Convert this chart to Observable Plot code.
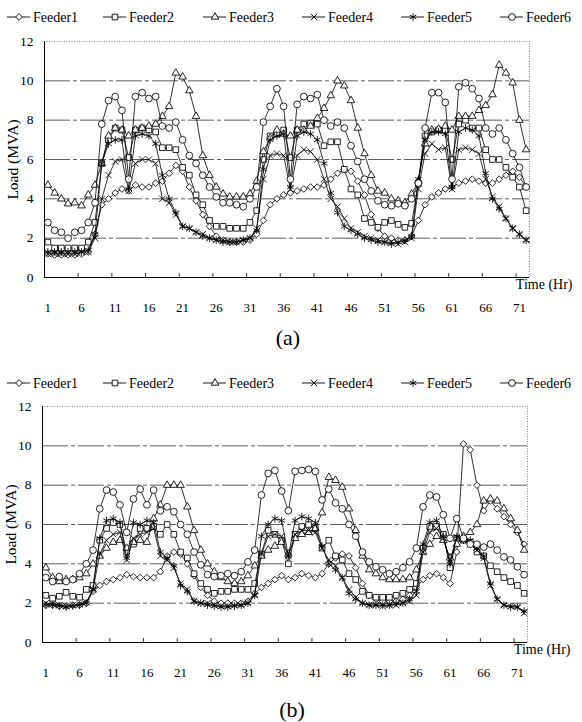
<!DOCTYPE html>
<html><head><meta charset="utf-8">
<script src="https://cdn.jsdelivr.net/npm/d3@7"></script>
<script src="https://cdn.jsdelivr.net/npm/@observablehq/plot@0.6"></script>
<style>
body{margin:0;background:#fff;width:582px;height:722px;position:relative;overflow:hidden;font-family:'Liberation Serif','DejaVu Serif',serif;color:#000;}
.cap{position:absolute;font-size:22px;width:60px;text-align:center;font-family:'Liberation Serif','DejaVu Serif',serif;}
</style></head><body>
<script>
// ---------- data ----------
const hours = d3.range(1, 73);
const feeders = ["Feeder1","Feeder2","Feeder3","Feeder4","Feeder5","Feeder6"];
const xTickLabels = [1,6,11,16,21,26,31,36,41,46,51,56,61,66,71];
const yTickLabels = [0,2,4,6,8,10,12];

// panel (a)
const aF1 = [1.2,1.15,1.15,1.15,1.15,1.2,1.3, 2.2,3.7,4.0,4.3,4.5,4.4,4.7,4.6,4.6,4.8,4.9,5.3,5.7,5.4,4.6,3.9,3.2, 2.6,2.1,1.9,1.8,1.8,1.8,1.9, 2.2,2.9,3.7,4.0,4.2,4.3,4.4,4.5,4.6,4.6,4.7,5.0,5.3,5.5,5.4,4.9,4.2, 3.2,2.5,2.1,2.0,1.9,1.9,2.1, 2.9,3.7,4.1,4.3,4.5,4.6,4.8,4.9,5.0,4.9,4.8,4.8,5.0,5.2,5.4,5.1,4.6];
const aF2 = [1.8,1.5,1.5,1.5,1.5,1.5,1.8, 2.8,5.8,7.0,7.6,7.5,6.1,7.5,7.6,7.5,7.4,6.6,6.6,6.5,5.6,5.2,4.2,3.7, 2.9,2.6,2.6,2.5,2.5,2.5,2.8, 3.4,6.0,7.2,7.3,7.5,6.1,7.5,7.8,7.85,7.8,6.7,6.9,6.9,5.5,4.5,4.2,3.0, 2.8,2.55,2.8,2.9,2.7,2.55,2.75, 4.8,7.2,7.4,7.5,7.5,6.0,7.8,8.0,7.6,7.6,6.5,6.0,6.0,5.6,5.1,4.6,3.4];
const aF3 = [4.7,4.3,4.0,3.75,3.8,3.65,4.2, 4.7,5.8,7.2,7.6,7.5,7.2,7.5,7.6,7.7,7.8,8.2,8.7,10.4,10.2,9.5,8.2,6.2, 5.2,4.6,4.25,4.1,4.1,4.1,4.25, 4.9,6.4,7.1,7.5,7.3,7.2,7.5,7.5,7.7,8.1,8.6,9.25,10.0,9.75,9.0,7.6,6.3, 5.2,4.4,4.3,4.0,3.9,3.8,4.25, 4.9,6.8,7.5,7.55,7.7,7.5,8.2,8.2,8.2,8.5,8.75,9.3,10.8,10.4,9.9,8.0,6.5];
const aF4 = [1.2,1.2,1.2,1.2,1.2,1.3,1.3, 2.0,4.0,5.2,5.9,6.0,4.4,5.8,6.0,6.0,5.8,4.0,3.8,3.2,2.6,2.5,2.3,2.2, 2.0,1.9,1.9,1.8,1.8,1.9,2.0, 2.5,5.0,6.2,6.3,6.2,4.5,6.2,6.5,6.4,6.0,5.0,4.0,3.6,3.0,2.5,2.3,2.1, 2.0,1.9,1.8,1.8,1.7,1.8,2.0, 4.5,6.3,6.8,6.5,6.6,4.5,6.5,6.6,6.5,6.3,5.0,4.1,3.6,3.0,2.5,2.2,1.9];
const aF5 = [1.3,1.3,1.3,1.3,1.3,1.3,1.4, 2.2,5.8,6.8,7.0,7.0,4.5,7.2,7.3,7.2,6.8,5.2,4.0,3.3,2.6,2.5,2.3,2.1, 2.0,1.9,1.8,1.8,1.8,1.9,2.0, 2.4,5.5,7.0,7.2,7.3,4.6,7.2,7.4,7.3,7.0,5.8,4.3,3.3,2.6,2.4,2.2,2.0, 1.9,1.8,1.8,1.7,1.8,1.9,2.1, 5.0,7.0,7.4,7.4,7.3,4.6,7.4,7.6,7.5,7.2,5.3,4.0,3.5,3.0,2.5,2.2,1.9];
const aF6 = [2.8,2.4,2.3,2.0,2.3,2.4,2.8, 3.8,7.8,9.0,9.2,8.5,5.0,9.2,9.4,9.1,9.2,7.7,7.6,7.9,7.0,6.2,5.8,5.2, 4.6,4.1,3.8,3.8,3.7,3.6,4.0, 4.6,7.9,8.7,9.6,8.7,5.0,8.8,9.2,9.1,9.3,8.0,7.7,7.9,7.6,6.7,5.9,5.0, 4.4,3.9,3.7,3.65,3.75,3.65,4.0, 4.8,7.6,9.4,9.4,8.9,5.0,9.7,9.9,9.6,9.1,7.6,7.3,7.6,7.0,6.3,5.6,4.6];

// panel (b)
const bF1 = [1.9,1.9,1.85,1.85,1.9,1.9,2.0, 2.6,2.9,3.1,3.2,3.3,3.45,3.35,3.3,3.3,3.3,3.6,4.4,4.6,4.5,4.0,3.4,2.8, 2.4,2.1,2.0,2.0,2.0,2.0,2.1, 2.5,2.8,3.0,3.2,3.4,3.2,3.3,3.5,3.4,3.3,3.5,4.0,4.3,4.5,4.4,3.8,3.0, 2.4,2.2,2.1,2.1,2.1,2.2,2.4, 2.8,3.2,3.4,3.5,3.3,3.0,4.6,10.1,9.8,8.0,6.7,7.2,6.8,6.4,6.0,5.6,5.0];
const bF2 = [2.4,2.25,2.35,2.55,2.35,2.3,2.7, 2.9,5.2,5.8,6.1,6.0,4.6,5.0,5.8,5.8,5.9,5.5,6.0,5.5,4.6,4.3,3.5,3.0, 2.7,2.5,2.6,2.6,2.7,2.7,2.7, 3.0,4.5,5.7,5.5,5.2,4.0,5.5,5.9,6.0,5.8,4.8,5.2,4.4,4.2,3.5,3.2,2.6, 2.4,2.3,2.3,2.3,2.4,2.5,2.7, 3.0,4.8,5.9,5.9,5.5,3.8,5.3,5.2,5.1,4.6,4.4,3.9,3.6,3.3,3.1,2.9,2.5];
const bF3 = [3.8,3.3,3.1,3.2,3.2,3.3,3.5, 4.0,4.4,4.8,5.1,5.2,4.8,5.1,5.2,5.1,6.3,7.0,8.0,8.0,8.0,6.9,5.7,4.7, 4.0,3.6,3.3,3.1,3.0,3.1,3.4, 3.9,4.4,4.7,4.9,5.1,4.5,5.3,5.5,5.6,5.8,6.6,8.4,8.25,7.9,6.8,5.7,4.4, 3.7,3.5,3.3,3.2,3.2,3.2,3.3, 3.7,4.6,5.0,5.4,5.2,4.3,5.0,5.4,5.6,6.0,7.2,7.3,7.2,6.8,6.3,5.7,4.7];
const bF4 = [2.0,1.95,1.9,1.85,1.9,1.95,2.05, 2.7,4.5,5.2,5.5,5.6,4.2,5.3,5.5,5.6,5.8,4.4,4.2,3.8,3.0,2.7,2.1,2.0, 2.0,1.9,1.85,1.85,1.9,1.9,2.0, 2.4,4.5,5.4,5.5,5.4,4.4,5.5,5.7,5.7,5.6,4.8,4.2,3.9,3.3,2.7,2.3,2.0, 1.9,1.9,1.85,1.9,1.9,2.0,2.1, 2.4,4.6,5.6,5.8,5.3,4.2,5.3,5.2,5.0,4.7,4.3,2.9,2.2,1.9,1.85,1.8,1.5];
const bF5 = [1.9,1.9,1.85,1.8,1.85,1.9,2.0, 2.7,5.3,6.2,6.3,6.1,4.3,6.1,6.0,6.2,6.1,4.6,4.3,3.9,2.9,2.6,2.1,2.0, 1.9,1.85,1.8,1.8,1.85,1.9,2.0, 2.4,5.4,6.0,6.3,6.2,4.4,6.2,6.4,6.3,6.1,4.9,4.0,3.7,3.3,2.5,2.2,2.0, 1.9,1.9,1.9,1.9,2.0,2.0,2.2, 2.6,5.0,6.1,6.2,5.4,4.0,5.4,5.2,5.2,4.8,4.4,3.0,2.2,1.9,1.8,1.8,1.6];
const bF6 = [3.3,3.1,3.35,3.1,3.2,3.5,4.0, 4.7,6.8,7.75,7.65,7.0,5.6,7.3,7.8,7.0,7.75,6.7,6.9,6.65,6.0,5.5,4.6,3.95, 3.45,3.35,3.4,3.5,3.4,3.6,4.1, 4.7,7.5,8.6,8.75,7.7,6.7,8.7,8.75,8.8,8.7,7.25,7.8,7.1,6.8,6.0,5.4,4.6, 4.1,3.85,3.7,3.5,3.6,3.8,4.1, 4.8,6.9,7.5,7.4,6.5,5.3,6.3,5.3,5.0,5.0,4.85,5.0,4.7,4.35,4.2,3.85,3.45];

// ---------- styling ----------
const symbols = ["diamond2","square2","triangle2","times","asterisk","circle"];
const d3symbols = [d3.symbolDiamond2, d3.symbolSquare2, d3.symbolTriangle2, d3.symbolTimes, d3.symbolAsterisk, d3.symbolCircle];
const radii = [3.0, 3.6, 3.6, 3.0, 3.6, 3.4];
const FONT = "'Liberation Serif', 'DejaVu Serif', serif";

function legend(top) {
  const svg = d3.create("svg").attr("width", 582).attr("height", 24)
    .style("position","absolute").style("left","0px").style("top", top + "px");
  const textX = [33, 129, 229, 328, 427, 526];
  feeders.forEach((name, i) => {
    const tx = textX[i];
    const cx = tx - 14;
    svg.append("line").attr("x1", tx - 26).attr("x2", tx - 3).attr("y1", 12).attr("y2", 12)
      .attr("stroke", "#000").attr("stroke-width", 0.9);
    svg.append("path").attr("d", d3.symbol(d3symbols[i], Math.PI * radii[i] * radii[i])())
      .attr("transform", `translate(${cx},12)`).attr("fill", "#fff").attr("stroke", "#000").attr("stroke-width", 0.9);
    svg.append("text").attr("x", tx).attr("y", 16.5).text(name)
      .style("font-family", FONT).style("font-size", "14px");
  });
  document.body.appendChild(svg.node());
}

function panel(seriesArr, top, ml, mr) {
  const marks = [
    Plot.ruleY([2,4,6,8,10], {stroke: "#333", strokeWidth: 0.8, strokeDasharray: "26,3,4,3"}),
    Plot.ruleY([12], {stroke: "#777", strokeWidth: 0.9, strokeDasharray: "1,1.5"}),
    Plot.ruleX([72.5], {stroke: "#777", strokeWidth: 0.9, strokeDasharray: "1,1.5"}),
    Plot.ruleX([0.5], {stroke: "#000", strokeWidth: 1}),
    Plot.ruleY([0], {stroke: "#000", strokeWidth: 1}),
    Plot.ruleX(d3.range(5.5, 72, 5), {y1: 0, y2: 0.2, stroke: "#000", strokeWidth: 0.8}),
    Plot.axisX({ticks: xTickLabels, tickSize: 0, tickPadding: 25, fontSize: 13, label: null}),
    Plot.axisY({ticks: yTickLabels, tickSize: 0, tickPadding: 11, fontSize: 13.5, label: null}),
    Plot.text(["Load (MVA)"], {text: d => d, frameAnchor: "left", rotate: -90, textAnchor: "middle", dx: -31, fontSize: 15.5}),
    Plot.text(["Time (Hr)"], {text: d => d, frameAnchor: "bottom-right", textAnchor: "end", dx: 43, dy: 11, fontSize: 14})
  ];
  seriesArr.forEach((vals, i) => {
    const data = hours.map((h, j) => ({h, v: vals[j]}));
    marks.push(Plot.line(data, {x: "h", y: "v", stroke: "#000", strokeWidth: 0.8}));
    marks.push(Plot.dot(data, {x: "h", y: "v", symbol: symbols[i], r: radii[i], stroke: "#000", fill: "#fff", strokeWidth: 0.85}));
  });
  const chart = Plot.plot({
    width: 582, height: 290,
    marginTop: 13, marginBottom: 41, marginLeft: ml, marginRight: mr,
    x: {domain: [0.5, 72.5]},
    y: {domain: [0, 12]},
    style: {fontFamily: FONT, fontSize: "13px", color: "#000", background: "transparent"},
    marks
  });
  chart.style.position = "absolute";
  chart.style.left = "0px";
  chart.style.top = top + "px";
  document.body.appendChild(chart);
}

function caption(text, cx, cy) {
  const d = document.createElement("div");
  d.className = "cap";
  d.textContent = text;
  d.style.left = (cx - 30) + "px";
  d.style.top = (cy - 13) + "px";
  d.style.lineHeight = "26px";
  document.body.appendChild(d);
}

legend(5);
panel([aF1, aF2, aF3, aF4, aF5, aF6], 28, 44, 53);
caption("(a)", 288, 338);
legend(371);
panel([bF1, bF2, bF3, bF4, bF5, bF6], 393, 42, 55);
caption("(b)", 292, 710);
</script>
</body></html>
